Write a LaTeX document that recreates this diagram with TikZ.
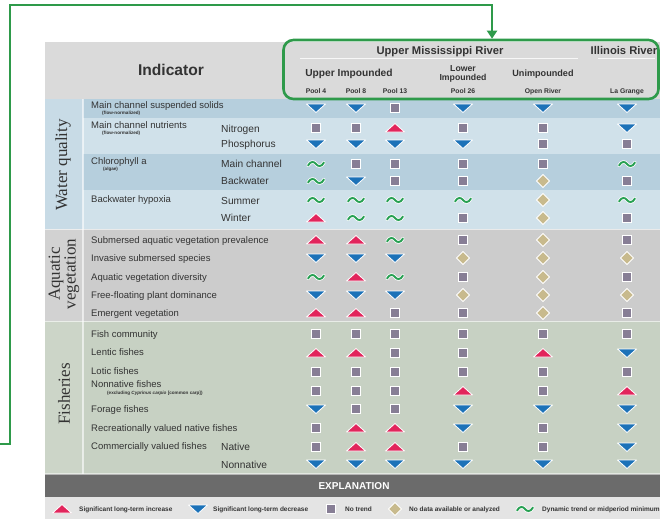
\documentclass[tikz,border=0pt]{standalone}
\usepackage{fontspec}
\setmainfont{Liberation Sans}
\newfontfamily\catfont{Liberation Serif}
\usetikzlibrary{arrows.meta}
\definecolor{hdr}{HTML}{DADADA}
\definecolor{wqcat}{HTML}{C8DBE6}
\definecolor{wqdark}{HTML}{B6CFDD}
\definecolor{wqlight}{HTML}{D0E1EA}
\definecolor{avbg}{HTML}{CCCCCC}
\definecolor{avcat}{HTML}{D2D2D2}
\definecolor{fibg}{HTML}{C7D1C3}
\definecolor{ficat}{HTML}{CCD5C8}
\definecolor{expl}{HTML}{6B6B6B}
\definecolor{legbg}{HTML}{E4E4E4}
\definecolor{cred}{HTML}{E2255C}
\definecolor{cblue}{HTML}{1C72B8}
\definecolor{csq}{HTML}{877E95}
\definecolor{cdia}{HTML}{C8BA8D}
\definecolor{ctil}{HTML}{27A052}
\definecolor{gline}{HTML}{2E9A4A}
\definecolor{txt}{HTML}{333333}
\newcommand\fs[1]{\fontsize{#1}{#1}\selectfont}
\newcommand\symrow[7]{%
  \pic at (316,#1) {sym#2};
  \pic at (356,#1) {sym#3};
  \pic at (395,#1) {sym#4};
  \pic at (463,#1) {sym#5};
  \pic at (543,#1) {sym#6};
  \pic at (627,#1) {sym#7};}
\tikzset{
  symU/.pic={\filldraw[fill=cred,draw=white,line width=0.8pt,line join=round] (-9.5,4) -- (9.5,4) -- (0,-4.5) -- cycle;},
  symD/.pic={\filldraw[fill=cblue,draw=white,line width=0.8pt,line join=round] (-9.5,-4) -- (9.5,-4) -- (0,4.5) -- cycle;},
  symS/.pic={\filldraw[fill=csq,draw=white,line width=0.8pt] (-4.6,-4.6) rectangle (4.6,4.6);},
  symG/.pic={\filldraw[fill=cdia,draw=white,line width=0.8pt] (0,-6.5) -- (6.5,0) -- (0,6.5) -- (-6.5,0) -- cycle;},
  symT/.pic={
    \draw[white,line width=3.4pt,line cap=round] (-8,1.5) .. controls (-5,-3.5) and (-2,-2.5) .. (0,0) .. controls (2,2.5) and (5,3.5) .. (8,-1.5);
    \draw[ctil,line width=1.9pt,line cap=round] (-8,1.5) .. controls (-5,-3.5) and (-2,-2.5) .. (0,0) .. controls (2,2.5) and (5,3.5) .. (8,-1.5);},
  hd/.style={inner sep=0pt,text depth=0pt,text=txt},
  rl/.style={anchor=west,inner sep=0pt,text depth=0pt,text height=6.8pt,font=\fs{9.5},text=txt},
  sl/.style={anchor=west,inner sep=0pt,text depth=0pt,text height=7.3pt,font=\fs{10.2},text=txt},
  tinyl/.style={anchor=west,inner sep=0pt,font=\bfseries\fs{4.6},text=txt},
  lg/.style={anchor=west,inner sep=0pt,text depth=0pt,text height=4.7pt,font=\bfseries\fs{6.5},text=txt},
  cat/.style={rotate=90,inner sep=0pt,font=\catfont\fontsize{17}{13.5}\selectfont,text=txt,align=center},
  pool/.style={hd,text height=4.9pt,font=\bfseries\fs{6.8}},
}
\begin{document}
\begin{tikzpicture}[x=1pt,y=-1pt]
\useasboundingbox (0,0) rectangle (660,519);
% backgrounds
\fill[hdr] (45,42) rectangle (660,99);
\fill[wqcat] (45,99) rectangle (83,229);
\fill[wqdark] (83,99) rectangle (660,118);
\fill[wqlight] (83,118) rectangle (660,154);
\fill[wqdark] (83,154) rectangle (660,190);
\fill[wqlight] (83,190) rectangle (660,229);
\fill[avcat] (45,229) rectangle (83,321);
\fill[avbg] (83,229) rectangle (660,321);
\fill[ficat] (45,321) rectangle (83,474);
\fill[fibg] (83,321) rectangle (660,474);
\fill[expl] (45,474) rectangle (660,497);
\fill[legbg] (45,497) rectangle (660,519);
\draw[white,opacity=0.6,line width=1.2pt] (83,99) -- (83,474);
\draw[white,opacity=0.6,line width=1pt] (45,229) -- (660,229) (45,321) -- (660,321);
\draw[white,opacity=0.5,line width=1.5pt] (45,474) -- (660,474);
\draw[white,opacity=0.8,line width=0.8pt] (300,58) -- (578,58) (598,58) -- (655,58);
% header
\node[hd,text height=11.2pt,font=\bfseries\fs{15.6}] (hind) at (171,70) {Indicator};
\node[hd,text height=8pt,font=\bfseries\fs{11.2}] (humr) at (440,50) {Upper Mississippi River};
\node[hd,text height=8pt,font=\bfseries\fs{11.2}] (hilr) at (624,50) {Illinois River};
\node[hd,text height=7.3pt,font=\bfseries\fs{10.2}] (hui) at (349,73) {Upper Impounded};
\node[hd,align=center,font=\bfseries\fontsize{8.7}{9.5}\selectfont] (hli) at (463,73) {Lower\\Impounded};
\node[hd,text height=6.5pt,font=\bfseries\fs{9.1}] (hun) at (543,73) {Unimpounded};
\node[pool] (hp4) at (316,91) {Pool 4};
\node[pool] (hp8) at (356,91) {Pool 8};
\node[pool] (hp13) at (395,91) {Pool 13};
\node[pool] (hp26) at (463,91) {Pool 26};
\node[pool] (hor) at (543,91) {Open River};
\node[pool] (hlg) at (627,91) {La Grange};
\node[draw=gline,line width=2.6pt,rounded corners=10pt,minimum width=375pt,minimum height=59pt,inner sep=0pt] (rivbox) at (471,69.5) {};
% category labels
\node[cat] (cwq) at (63,165) {Water quality};
\node[cat] (cav) at (64,274) {Aquatic\\vegetation};
\node[cat] (cfi) at (64,394) {Fisheries};
% water quality labels
\node[rl] (l1) at (91,105) {Main channel suspended solids};
\node[tinyl] (l1s) at (102,113.5) {(flow-normalized)};
\node[rl] (l2) at (91,125) {Main channel nutrients};
\node[tinyl] (l2s) at (102,133) {(flow-normalized)};
\node[sl] (s2a) at (221,129) {Nitrogen};
\node[sl] (s2b) at (221,144) {Phosphorus};
\node[rl] (l3) at (91,161) {Chlorophyll a};
\node[tinyl] (l3s) at (103,169.5) {(algae)};
\node[sl] (s3a) at (221,164) {Main channel};
\node[sl] (s3b) at (221,181) {Backwater};
\node[rl] (l4) at (91,199) {Backwater hypoxia};
\node[sl] (s4a) at (221,201) {Summer};
\node[sl] (s4b) at (221,218) {Winter};
% aquatic vegetation labels
\node[rl] (l5) at (91,240) {Submersed aquatic vegetation prevalence};
\node[rl] (l6) at (91,258) {Invasive submersed species};
\node[rl] (l7) at (91,277) {Aquatic vegetation diversity};
\node[rl] (l8) at (91,295.5) {Free-floating plant dominance};
\node[rl] (l9) at (91,313) {Emergent vegetation};
% fisheries labels
\node[rl] (l10) at (91,334) {Fish community};
\node[rl] (l11) at (91,352.5) {Lentic fishes};
\node[rl] (l12) at (91,371) {Lotic fishes};
\node[rl] (l13) at (91,384.5) {Nonnative fishes};
\node[tinyl] (l13s) at (107,393) {(excluding \textit{Cyprinus carpio} [common carp])};
\node[rl] (l14) at (91,409) {Forage fishes};
\node[rl] (l15) at (91,428) {Recreationally valued native fishes};
\node[rl] (l16) at (91,446.5) {Commercially valued fishes};
\node[sl] (s16a) at (221,447) {Native};
\node[sl] (s16b) at (221,464.5) {Nonnative};
% symbols
\symrow{108}{D}{D}{S}{D}{D}{D}
\symrow{128}{S}{S}{U}{S}{S}{D}
\symrow{144}{D}{D}{D}{D}{S}{S}
\symrow{164}{T}{S}{S}{S}{S}{T}
\symrow{181}{T}{D}{S}{S}{G}{S}
\symrow{200}{T}{T}{T}{T}{G}{T}
\symrow{218}{U}{T}{T}{S}{G}{S}
\symrow{240}{U}{U}{T}{S}{G}{S}
\symrow{258}{D}{D}{D}{G}{G}{G}
\symrow{277}{T}{U}{T}{S}{G}{S}
\symrow{295}{D}{D}{D}{G}{G}{G}
\symrow{313}{U}{U}{S}{S}{G}{S}
\symrow{334}{S}{S}{S}{S}{S}{S}
\symrow{353}{U}{U}{S}{S}{U}{D}
\symrow{372}{S}{S}{S}{S}{S}{S}
\symrow{391}{S}{S}{S}{U}{S}{U}
\symrow{409}{D}{S}{S}{D}{D}{D}
\symrow{428}{S}{U}{U}{D}{S}{D}
\symrow{447}{S}{U}{U}{S}{S}{D}
\symrow{464}{D}{D}{D}{D}{D}{D}
% explanation
\node[inner sep=0pt,text depth=0pt,text height=7.2pt,font=\bfseries\fs{10},text=white] (expl) at (354,486) {EXPLANATION};
\pic at (62,509) {symU};
\node[lg] (lg1) at (79,509) {Significant long-term increase};
\pic at (198,509) {symD};
\node[lg] (lg2) at (213,509) {Significant long-term decrease};
\pic at (331,509) {symS};
\node[lg] (lg3) at (345,509) {No trend};
\pic at (395,509) {symG};
\node[lg] (lg4) at (409,509) {No data available or analyzed};
\pic at (525,509) {symT};
\node[lg] (lg5) at (542,509) {Dynamic trend or midperiod minimum};
% green connector
\coordinate (gs) at (0,444);
\coordinate (gc1) at (10,444);
\coordinate (gc2) at (10,5);
\coordinate (gc3) at (492,5);
\draw[gline,line width=2.6pt,-{Triangle[length=8pt,width=10pt]}] (gs) -- (gc1) -- (gc2) -- (gc3) -- (gc3 |- rivbox.north);
\end{tikzpicture}
\end{document}
